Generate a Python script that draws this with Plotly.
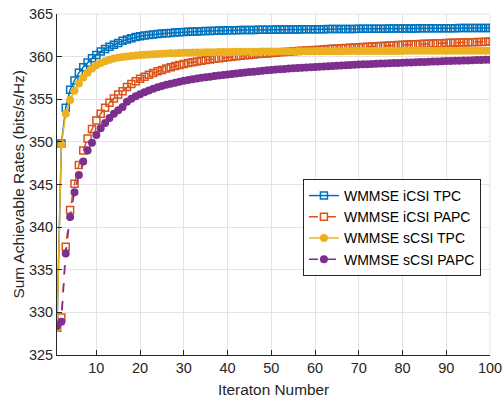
import plotly.graph_objects as go

iterations = list(range(1, 101))

icsi_tpc = [
    328.2, 349.8, 354.0, 356.1, 357.2, 358.1, 358.75, 359.3, 359.8, 360.2,
    360.6, 360.9, 361.15, 361.4, 361.6, 361.85, 362.0, 362.15, 362.3, 362.4,
    362.47, 362.54, 362.6, 362.65, 362.7, 362.74, 362.78, 362.82, 362.86, 362.89,
    362.92, 362.94, 362.96, 362.98, 363.0, 363.02, 363.04, 363.05, 363.07, 363.08,
    363.09, 363.1, 363.11, 363.12, 363.13, 363.13, 363.14, 363.15, 363.15, 363.16,
    363.17, 363.17, 363.18, 363.18, 363.19, 363.19, 363.2, 363.2, 363.21, 363.21,
    363.22, 363.22, 363.23, 363.23, 363.24, 363.24, 363.25, 363.25, 363.25, 363.26,
    363.26, 363.27, 363.27, 363.28, 363.28, 363.28, 363.29, 363.29, 363.3, 363.3,
    363.3, 363.31, 363.31, 363.32, 363.32, 363.32, 363.33, 363.33, 363.33, 363.34,
    363.34, 363.34, 363.35, 363.35, 363.35, 363.36, 363.36, 363.36, 363.37, 363.37,
]

icsi_papc = [
    328.2, 329.4, 337.7, 342.0, 345.1, 347.3, 349.0, 350.4, 351.5, 352.5,
    353.3, 354.0, 354.6, 355.1, 355.55, 355.95, 356.45, 356.8, 357.1, 357.4,
    357.65, 357.88, 358.08, 358.27, 358.44, 358.6, 358.75, 358.89, 359.02, 359.14,
    359.25, 359.35, 359.44, 359.52, 359.6, 359.67, 359.74, 359.8, 359.86, 359.92,
    359.98, 360.04, 360.1, 360.15, 360.2, 360.25, 360.3, 360.34, 360.38, 360.42,
    360.46, 360.5, 360.54, 360.58, 360.62, 360.65, 360.68, 360.72, 360.75, 360.79,
    360.82, 360.85, 360.88, 360.91, 360.94, 360.97, 361.0, 361.03, 361.06, 361.1,
    361.13, 361.16, 361.19, 361.22, 361.25, 361.28, 361.31, 361.34, 361.37, 361.4,
    361.42, 361.44, 361.46, 361.48, 361.5, 361.52, 361.54, 361.56, 361.58, 361.6,
    361.62, 361.64, 361.66, 361.67, 361.69, 361.7, 361.72, 361.73, 361.75, 361.77,
]

scsi_tpc = [
    328.2, 349.7, 353.3, 354.9, 356.0, 356.85, 357.55, 358.1, 358.6, 359.0,
    359.25, 359.45, 359.63, 359.78, 359.9, 359.97, 360.02, 360.08, 360.13, 360.18,
    360.22, 360.26, 360.29, 360.32, 360.35, 360.37, 360.39, 360.41, 360.43, 360.45,
    360.46, 360.47, 360.48, 360.49, 360.5, 360.51, 360.52, 360.53, 360.54, 360.55,
    360.55, 360.56, 360.56, 360.57, 360.57, 360.58, 360.58, 360.59, 360.59, 360.6,
    360.6, 360.6, 360.61, 360.61, 360.61, 360.62, 360.62, 360.62, 360.63, 360.63,
    360.63, 360.63, 360.64, 360.64, 360.64, 360.64, 360.65, 360.65, 360.65, 360.65,
    360.66, 360.66, 360.66, 360.66, 360.66, 360.67, 360.67, 360.67, 360.67, 360.67,
    360.68, 360.68, 360.68, 360.68, 360.68, 360.68, 360.69, 360.69, 360.69, 360.69,
    360.69, 360.69, 360.69, 360.7, 360.7, 360.7, 360.7, 360.7, 360.7, 360.7,
]

scsi_papc = [
    328.4, 328.9, 336.9, 341.2, 344.1, 346.1, 347.7, 349.0, 349.9, 350.8,
    351.6, 352.2, 352.8, 353.3, 353.7, 354.1, 354.7, 355.05, 355.35, 355.6,
    355.83, 356.04, 356.23, 356.4, 356.56, 356.7, 356.83, 356.95, 357.06, 357.16,
    357.26, 357.35, 357.43, 357.51, 357.58, 357.65, 357.72, 357.78, 357.84, 357.9,
    357.96, 358.02, 358.08, 358.14, 358.19, 358.24, 358.29, 358.34, 358.39, 358.44,
    358.48, 358.52, 358.56, 358.6, 358.63, 358.66, 358.69, 358.72, 358.75, 358.78,
    358.81, 358.84, 358.87, 358.9, 358.93, 358.96, 358.99, 359.02, 359.05, 359.08,
    359.1, 359.12, 359.14, 359.16, 359.18, 359.2, 359.22, 359.24, 359.26, 359.28,
    359.3, 359.32, 359.34, 359.36, 359.38, 359.4, 359.42, 359.44, 359.46, 359.48,
    359.5, 359.52, 359.53, 359.55, 359.56, 359.58, 359.59, 359.61, 359.62, 359.64,
]

x_ticks = [10, 20, 30, 40, 50, 60, 70, 80, 90, 100]
y_ticks = [325, 330, 335, 340, 345, 350, 355, 360, 365]

series_names = ["WMMSE iCSI TPC", "WMMSE iCSI PAPC", "WMMSE sCSI TPC", "WMMSE sCSI PAPC"]
x_title = "Iteraton Number"
y_title = "Sum Achievable Rates (bits/s/Hz)"

FONT = "Liberation Sans, Arial, Helvetica, sans-serif"
TXT = "#262626"
GRID = "#e3e3e3"

fig = go.Figure()

styles = [
    (icsi_tpc, "#0072BD", "solid", "square-open", 7),
    (icsi_papc, "#D95319", "dash", "square-open", 7),
    (scsi_tpc, "#EDB120", "solid", "circle", 6.5),
    (scsi_papc, "#7E2F8E", "dash", "circle", 6.5),
]

for name, (vals, color, dash, sym, msize) in zip(series_names, styles):
    fig.add_trace(go.Scatter(
        x=iterations, y=vals, name=name, mode="lines+markers",
        line=dict(color=color, width=1.5, dash=dash),
        marker=dict(symbol=sym, size=msize, color=color,
                    line=dict(color=color, width=1.5)),
    ))

fig.update_layout(
    width=502, height=398,
    margin=dict(l=57, r=12, t=14, b=43, autoexpand=False),
    paper_bgcolor="white", plot_bgcolor="white",
    font=dict(family=FONT, color=TXT, size=14),
    showlegend=True,
    legend=dict(
        x=0.568, y=0.374, xanchor="left", yanchor="middle",
        bgcolor="white", bordercolor=TXT, borderwidth=1,
        font=dict(family=FONT, size=14, color="#000000"),
        tracegroupgap=0, itemwidth=30,
    ),
    xaxis=dict(
        range=[1, 100], tickvals=x_ticks, ticktext=[str(t) for t in x_ticks],
        showgrid=True, gridcolor=GRID, gridwidth=1,
        showline=True, linecolor=TXT, linewidth=1,
        ticks="inside", ticklen=5, tickcolor=TXT, tickwidth=1,
        zeroline=False, tickfont=dict(size=14.5, color=TXT),
        automargin=False, ticklabeloverflow="allow",
    ),
    yaxis=dict(
        range=[325, 365], tickvals=y_ticks, ticktext=[str(t) for t in y_ticks],
        showgrid=True, gridcolor=GRID, gridwidth=1,
        showline=True, linecolor=TXT, linewidth=1,
        ticks="inside", ticklen=5, tickcolor=TXT, tickwidth=1,
        zeroline=False, tickfont=dict(size=14.5, color=TXT),
        automargin=False, ticklabeloverflow="allow",
    ),
    shapes=[
        dict(type="line", xref="paper", yref="paper", x0=1, x1=1, y0=0, y1=1,
             line=dict(color=GRID, width=1), layer="below"),
        dict(type="line", xref="paper", yref="paper", x0=0, x1=1, y0=1, y1=1,
             line=dict(color=GRID, width=1), layer="below"),
    ],
    annotations=[
        dict(text=x_title, xref="paper", yref="paper", x=0.5, y=-0.1,
             xanchor="center", yanchor="middle", showarrow=False,
             font=dict(size=15.4, color=TXT, family=FONT)),
        dict(text=y_title, xref="paper", yref="paper", x=-0.09, y=0.5,
             xanchor="center", yanchor="middle", showarrow=False, textangle=-90,
             font=dict(size=15.4, color=TXT, family=FONT)),
    ],
)

fig.write_html("out.html")
